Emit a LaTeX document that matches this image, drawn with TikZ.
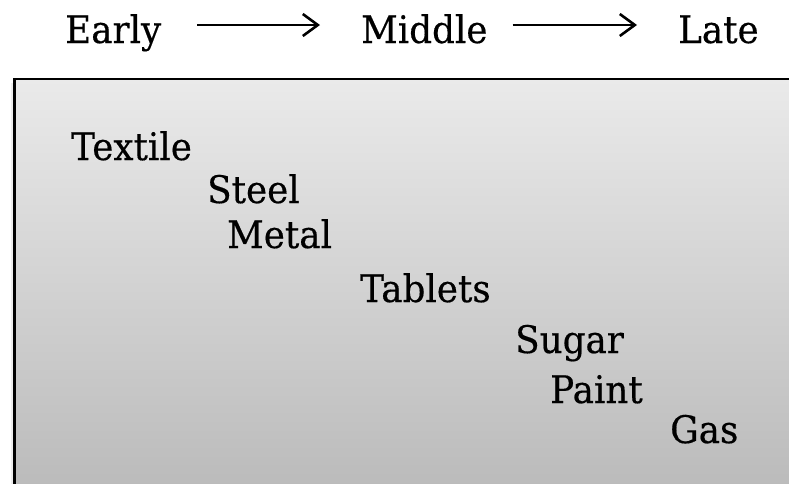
\documentclass[tikz,border=0pt]{standalone}
\usepackage{fontspec}
\setmainfont{DejaVu Serif}[FakeStretch=0.94,FakeBold=0.4]
\usetikzlibrary{arrows.meta}
\definecolor{boxtop}{RGB}{234,234,234}
\definecolor{boxbot}{RGB}{186,186,186}
\begin{document}
\begin{tikzpicture}[x=1pt,y=-1pt,
  lbl/.style={anchor=base west,inner sep=0pt,font=\fontsize{38}{44}\selectfont},
  arr/.style={line width=2.6pt,-{Straight Barb[length=15pt,width=22pt,line width=2.6pt]}}]
\useasboundingbox (0,0) rectangle (789,483);
\clip (0,0) rectangle (789,483);
\fill[black!7] (11,83) rectangle (14,495);
\shade[top color=boxtop,bottom color=boxbot,draw=black,line width=2.6pt] (14.5,79) rectangle (800,495);
\node[lbl] (early) at (65,43) {Early};
\node[lbl] (middle) at (361,43) {Middle};
\node[lbl] (late) at (678,43) {Late};
\draw[arr] ([xshift=36pt,yshift=18pt]early.base east) -- ([xshift=-41pt,yshift=18pt]middle.base west);
\draw[arr] ([xshift=25pt,yshift=18pt]middle.base east) -- ([xshift=-41pt,yshift=18pt]late.base west);
\node[lbl] (textile) at (71,160) {Textile};
\node[lbl] (steel) at (207,203) {Steel};
\node[lbl] (metal) at (227,248) {Metal};
\node[lbl] (tablets) at (360,302) {Tablets};
\node[lbl] (sugar) at (515,353) {Sugar};
\node[lbl] (paint) at (550,403) {Paint};
\node[lbl] (gas) at (670,443) {Gas};
\end{tikzpicture}
\end{document}
